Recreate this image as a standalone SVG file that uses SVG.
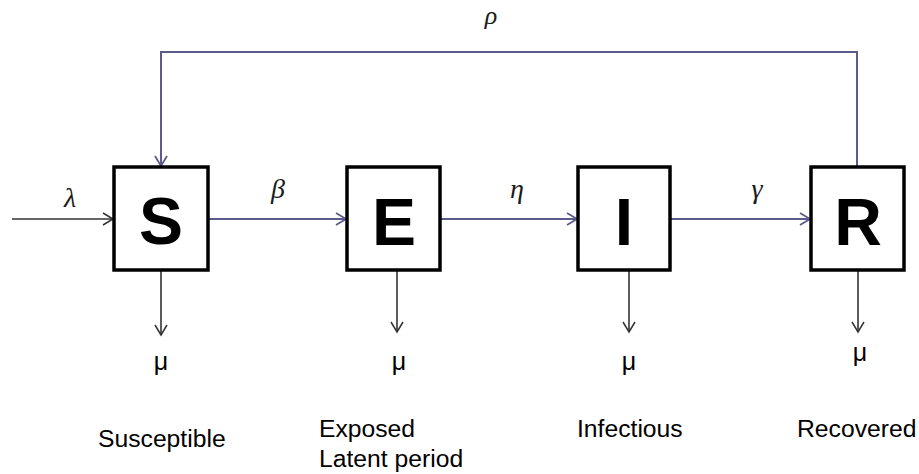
<svg xmlns="http://www.w3.org/2000/svg" width="919" height="474" viewBox="0 0 919 474">
<style>
.box{fill:#fff;stroke:#000;stroke-width:3.5}
.big{font-family:"Liberation Sans",Arial,sans-serif;font-weight:bold;font-size:66px;text-anchor:middle;fill:#000}
.lbl{font-family:"Liberation Sans",Arial,sans-serif;font-size:24.7px;fill:#000}
.mu{font-family:"Liberation Sans",Arial,sans-serif;font-size:25px;fill:#000;text-anchor:middle}
.gr{font-family:"Liberation Serif","DejaVu Serif",serif;font-style:italic;font-size:28px;fill:#1a1a1a;text-anchor:middle}
.blue{fill:none;stroke:#5c5c8c;stroke-width:2}
.dark{fill:none;stroke:#333;stroke-width:1.6}
</style>
<defs>
<marker id="ab" markerWidth="14" markerHeight="14" refX="12" refY="7" orient="auto" markerUnits="userSpaceOnUse"><path d="M2,1 L12,7 L2,13" fill="none" stroke="#5c5c8c" stroke-width="1.8"/></marker>
<marker id="ad" markerWidth="14" markerHeight="14" refX="12" refY="7" orient="auto" markerUnits="userSpaceOnUse"><path d="M2,1 L12,7 L2,13" fill="none" stroke="#333" stroke-width="1.5"/></marker>
</defs>
<g id="connectors">
<line class="dark" x1="12" y1="219" x2="113" y2="219" marker-end="url(#ad)"/>
<line class="blue" x1="209" y1="219" x2="346" y2="219" marker-end="url(#ab)"/>
<line class="blue" x1="441" y1="219" x2="577" y2="219" marker-end="url(#ab)"/>
<line class="blue" x1="671" y1="219" x2="810" y2="219" marker-end="url(#ab)"/>
<polyline class="blue" points="857,166 857,52 161,52 161,166" marker-end="url(#ab)"/>
<line class="dark" x1="161" y1="271" x2="161" y2="335" marker-end="url(#ad)"/>
<line class="dark" x1="397" y1="271" x2="397" y2="332" marker-end="url(#ad)"/>
<line class="dark" x1="629" y1="271" x2="629" y2="332" marker-end="url(#ad)"/>
<line class="dark" x1="858" y1="271" x2="858" y2="332" marker-end="url(#ad)"/>
<text class="gr" x="70" y="207">λ</text>
<text class="gr" x="278" y="198">β</text>
<text class="gr" x="517" y="198">η</text>
<text class="gr" x="757" y="198">γ</text>
<text class="gr" x="491" y="24" style="font-size:26px">ρ</text>
</g>
<g id="S">
<rect class="box" x="114" y="167" width="94" height="103"/>
<text class="big" x="161" y="244">S</text>
<text class="mu" x="161" y="370">μ</text>
<text class="lbl" x="98" y="447">Susceptible</text>
</g>
<g id="E">
<rect class="box" x="347" y="167" width="93" height="103"/>
<text class="big" x="394" y="245">E</text>
<text class="mu" x="399" y="370">μ</text>
<text class="lbl" x="319" y="437">Exposed</text>
<text class="lbl" x="319" y="467">Latent period</text>
</g>
<g id="I">
<rect class="box" x="578" y="167" width="92" height="103"/>
<text class="big" x="624" y="245">I</text>
<text class="mu" x="629" y="370">μ</text>
<text class="lbl" x="577" y="437">Infectious</text>
</g>
<g id="R">
<rect class="box" x="811" y="167" width="93" height="103"/>
<text class="big" x="858" y="245">R</text>
<text class="mu" x="860" y="361">μ</text>
<text class="lbl" x="797" y="437">Recovered</text>
</g>
</svg>
